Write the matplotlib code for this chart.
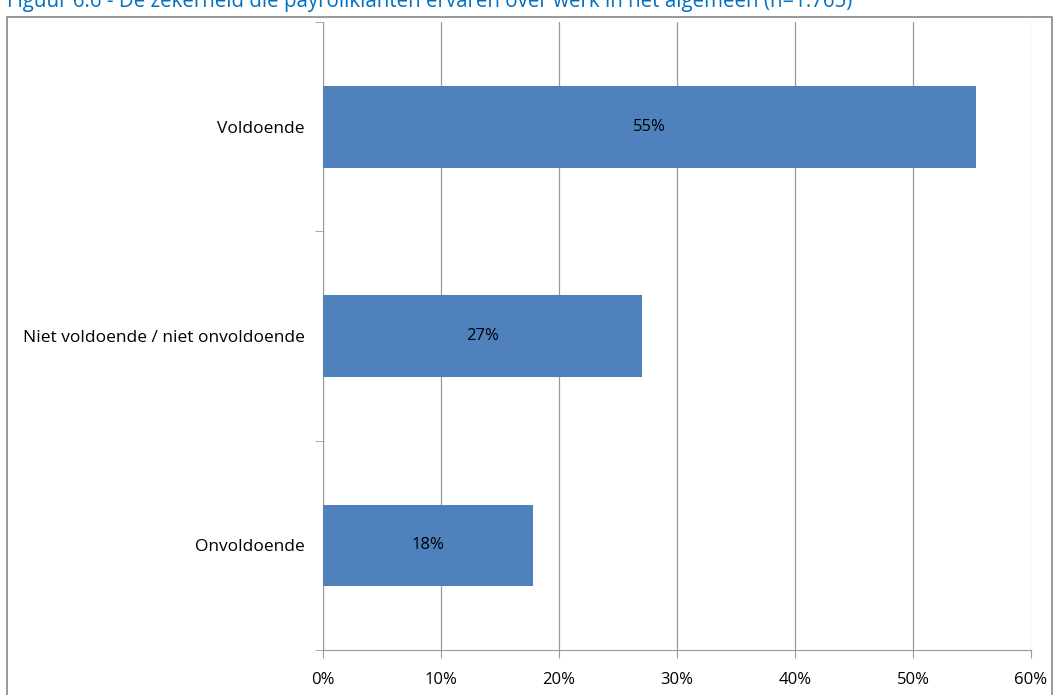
import matplotlib.pyplot as plt
from matplotlib.patches import Rectangle

# data
categories = ["Voldoende", "Niet voldoende / niet onvoldoende", "Onvoldoende"]
values = [55.3, 27.0, 17.8]
labels = ["55%", "27%", "18%"]
title = "Figuur 6.6 - De zekerheid die payrollklanten ervaren over werk in het algemeen (n=1.765)"

plt.rcParams['font.family'] = ['Open Sans', 'DejaVu Sans']

fig = plt.figure(figsize=(10.57, 6.95), dpi=100)
ax = fig.add_axes([0.3056, 0.0647, 0.6698, 0.9036])

#outer frame of the chart area
frame = Rectangle((7/1057, -0.05), (1052-7)/1057, 1 - 17/695 + 0.05,
                  transform=fig.transFigure, fill=False, edgecolor="#888888", linewidth=1.2)
fig.patches.append(frame)

#title, partly cut off at the top like the original
fig.text(7/1057, 1 - 7/695, title, color="#0070C0", fontsize=14.8, ha="left", va="baseline")

pos = [2, 1, 0]
ax.barh(pos, values, height=0.39, color="#4F81BD", zorder=3)
for p, v, lab in zip(pos, values, labels):
    ax.text(v / 2, p, lab, ha="center", va="center", fontsize=12, color="black", zorder=4)

ax.set_xlim(0, 60)
ax.set_ylim(-0.5, 2.5)
ax.set_xticks(range(0, 61, 10))
ax.set_xticklabels([f"{t}%" for t in range(0, 61, 10)], fontsize=12)
ax.set_yticks(pos)
ax.set_yticklabels(categories, fontsize=12.5)
ax.set_yticks([-0.5, 0.5, 1.5, 2.5], minor=True)
ax.tick_params(axis="y", which="major", length=0, pad=13)
ax.tick_params(axis="y", which="minor", length=6, color="#999999", direction="out")
ax.tick_params(axis="x", length=6, color="#999999", pad=10)
ax.grid(axis="x", color="#999999", linewidth=0.9, zorder=0)
for s in ["top", "right"]:
    ax.spines[s].set_visible(False)
ax.spines["left"].set_color("#999999")
ax.spines["bottom"].set_color("#999999")

plt.savefig("out.png")
